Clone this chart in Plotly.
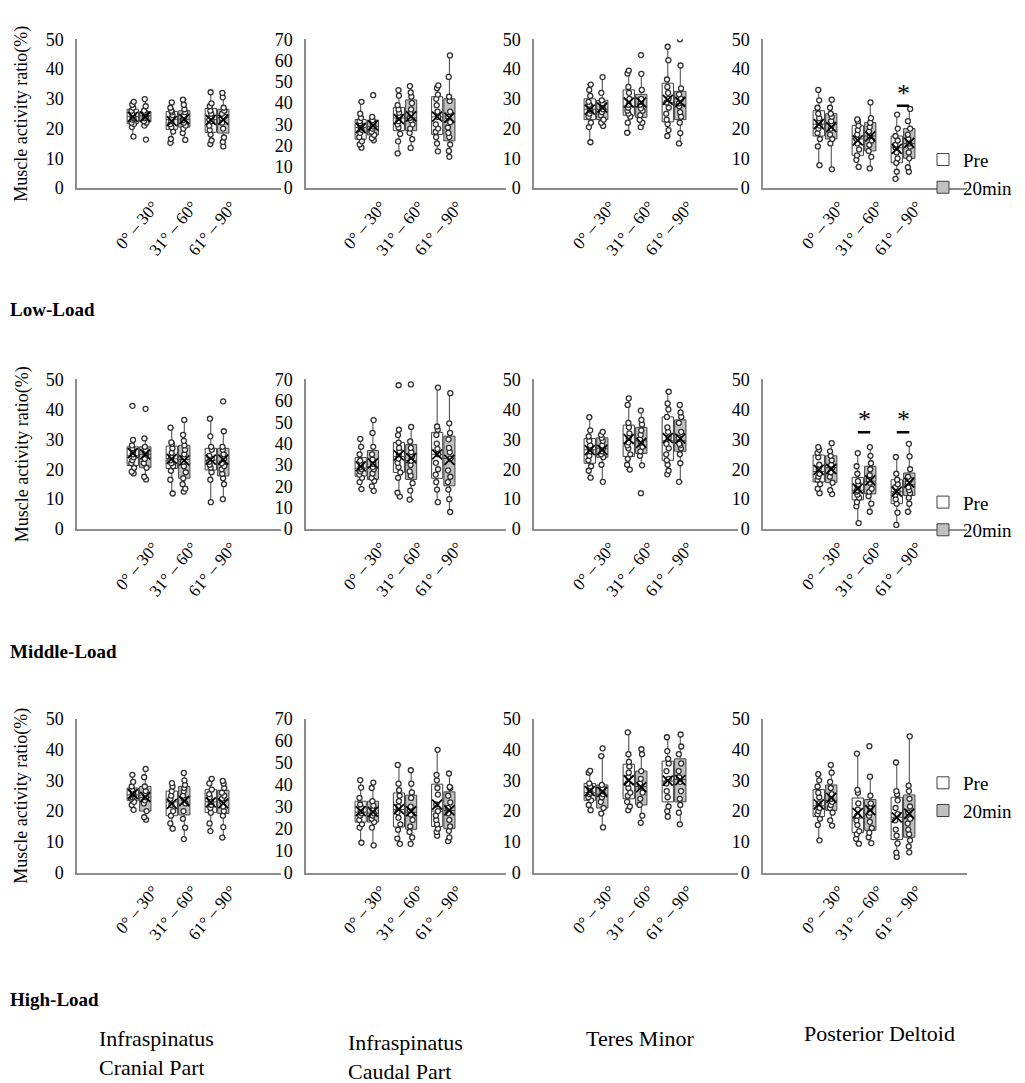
"""
Box plots of muscle activity ratio (Pre vs 20min) for four muscles
under three load levels, rebuilt with plotly.
"""

import numpy as np
import plotly.graph_objects as go

FONT = "Liberation Serif, Times New Roman, serif"

ANGLES = ["0° – 30°", "31° – 60°", "61° – 90°"]
MUSCLES = ["Infraspinatus<br>Cranial Part", "Infraspinatus<br>Caudal Part",
           "Teres Minor", "Posterior Deltoid"]
LOADS = ["Low-Load", "Middle-Load", "High-Load"]
GROUPS = ["Pre", "20min"]
Y_MAX = [50, 70, 50, 50]

# ---- Low-Load (one list per angle range) ----
LOW_CRAN_PRE = [[17.3, 20.5, 21.5, 22, 23, 23.5, 24, 24.5, 25, 26, 27, 28, 29],
                [15.2, 16.5, 19, 20.5, 21.5, 22.5, 23.5, 24.5, 25.5, 26, 27, 28.8],
                [14.8, 16, 18, 19.5, 21, 22.5, 23, 24, 25, 26, 27.5, 28.5, 32.2]]
LOW_CRAN_POST = [[16.3, 21, 22, 22.5, 23.5, 24, 24.5, 25, 25.5, 26, 27.5, 29.9],
                 [16.2, 18.5, 20, 21, 22, 22.8, 23.5, 24.5, 25.5, 26.5, 28, 29.7],
                 [14, 15.5, 17, 20, 22, 23.5, 24, 25, 26, 27, 30.5, 32]]
LOW_CAUD_PRE = [[19, 20.5, 22, 24, 26, 27.5, 28.5, 29.5, 30.5, 31.5, 33, 35, 40.6],
                [16.3, 22, 25.5, 28.5, 30, 31.5, 33, 34, 35.5, 37, 39, 43.5, 46.1],
                [17.3, 21, 24, 26.5, 28, 30, 33.5, 36, 39, 42, 44, 47, 48.3]]
LOW_CAUD_POST = [[22.5, 23.5, 25, 26.5, 28, 29, 30, 31, 32, 33.5, 43.7],
                 [18.9, 23, 26, 28, 30, 32, 33, 35, 37, 40, 43, 45, 48],
                 [14.7, 17.5, 20.5, 24, 26, 28.5, 31, 33.5, 36, 41, 43, 52.3, 62.4]]
LOW_TM_PRE = [[15.4, 20.5, 22, 24, 25, 26, 26.5, 27.5, 28, 29, 31, 33, 34.8],
              [18.6, 22, 24, 25, 26, 27, 28, 30, 32, 34, 38.5, 39.5],
              [17.5, 19.5, 21.5, 23, 25, 27, 28.8, 30, 32, 34, 36.5, 43, 47.5]]
LOW_TM_POST = [[20.9, 22, 23, 24.5, 25.5, 26.5, 27.5, 28.5, 29.5, 32, 37.3],
               [20.5, 22, 23, 24.5, 26, 26.8, 28, 29, 30, 33, 38.4, 44.7],
               [15, 18.5, 22, 24, 25.5, 27.5, 28.5, 30, 31.5, 33.5, 41.2, 50]]
LOW_PD_PRE = [[7.7, 14, 16.5, 18.5, 20, 21, 22, 23.5, 25, 27, 29.5, 33],
              [7.1, 9.5, 11, 13, 15, 16.5, 18, 19.5, 21, 22.5, 23.1],
              [3.1, 5.5, 8.5, 10, 12, 13.5, 14.5, 16, 17.5, 20, 24.7]]
LOW_PD_POST = [[6.3, 15, 16.5, 18, 20, 21.5, 22.5, 24, 25, 27, 29.7],
               [6.6, 10.5, 12.5, 14.5, 16, 17.5, 19, 20.5, 22, 23.5, 28.8],
               [5.5, 7, 10, 12, 14, 15, 16.5, 18, 20, 22.5, 26.6]]

# ---- Middle-Load ----
MID_CRAN_PRE = [[18.6, 19.2, 20.5, 22, 23, 24, 25, 26, 27, 28, 29.8, 41.2],
                [11.9, 16.5, 19.5, 21, 22, 23, 24, 25.5, 27, 28.5, 29, 33.9],
                [9, 16.5, 19, 20.5, 21.5, 22.5, 23.5, 24.5, 26.5, 27.5, 31, 36.9]]
MID_CRAN_POST = [[16.6, 17.5, 20.5, 22, 23.5, 25, 25.5, 26.5, 27.5, 30.3, 40.2],
                 [12.5, 13.5, 15, 17, 19, 21, 22.5, 24, 25, 26.5, 28, 29.5, 31.5, 36.5],
                 [10, 15, 17, 18.5, 20, 21, 22, 23.5, 25, 26.5, 27.5, 32.7, 42.7]]
MID_CAUD_PRE = [[18.7, 22, 24, 25.5, 27, 28, 29, 30.5, 32, 35, 38.5, 42.2],
                [15.2, 17, 24, 26.5, 29, 31, 33, 35, 36.5, 38, 40.5, 44, 46.5, 67.3],
                [12.6, 18.5, 22, 25.5, 28, 31, 35, 37.5, 40, 44, 46.5, 48, 66.2]]
MID_CAUD_POST = [[17.9, 20, 22.5, 24, 26, 28, 29, 30.5, 32.5, 35, 38.5, 45, 51],
                 [13.8, 18, 21.5, 25, 27, 30, 32, 34, 36, 38, 41, 47.8, 67.7],
                 [8, 14, 18.5, 22, 24.5, 27.5, 33, 36, 38, 42, 45, 49.5, 63.6]]
MID_TM_PRE = [[17.2, 19.5, 21, 23, 24.5, 26, 27, 28, 29.5, 31, 33, 37.4],
              [19.9, 21.5, 23.5, 25, 27, 28, 29, 30.5, 32, 34, 35.5, 41.5, 43.7],
              [18.3, 19.5, 21.5, 23, 25, 27, 28.5, 30.5, 32.5, 34, 37.5, 40, 42, 45.9]]
MID_TM_POST = [[15.8, 21.5, 24, 25, 26, 27, 28, 29.5, 30.5, 31.5, 32.5],
               [12, 21.3, 24.5, 26, 27.5, 29, 30, 31.5, 33, 35, 36.5, 39.6],
               [15.8, 22, 25, 27, 28, 28.5, 30.5, 32.5, 35.5, 37.5, 39, 41.5]]
MID_PD_PRE = [[12, 13.5, 15, 16.5, 17.5, 18.5, 20, 21.5, 24, 25.5, 26.5, 27.4],
              [2, 7.6, 9, 10.5, 11.5, 12.5, 13, 14, 15, 16, 18.5, 21, 25.4],
              [1.4, 5.5, 8.5, 10, 11.5, 12.5, 14, 15, 16.5, 18.5, 24.1]]
MID_PD_POST = [[11.7, 13, 15.5, 17.5, 19, 20.5, 21.5, 23, 24.5, 26, 28.7],
               [5.8, 8.5, 11, 12.5, 13.5, 15.5, 16.5, 18, 20, 22, 24.5, 27.4],
               [5.8, 8.5, 10.5, 12, 13, 14, 15.5, 16.5, 17.5, 20, 24.3, 28.5]]

# ---- High-Load ----
HIGH_CRAN_PRE = [[20.4, 22, 23, 24, 24.5, 25, 25.5, 26, 27, 28, 29.5, 31.8],
                 [14.3, 16, 18.5, 20, 22, 24, 25, 26.5, 28, 29.1],
                 [13.5, 16, 19.5, 21, 22, 23, 24.5, 25.5, 27, 29, 30.5]]
HIGH_CRAN_POST = [[17.2, 18, 20, 22.5, 23.5, 24.5, 25.5, 26.5, 28, 31, 33.7],
                  [10.9, 14.6, 17.5, 20, 22.5, 24, 25, 26.5, 27.5, 28.5, 30, 32.4],
                  [11.4, 14.8, 18.5, 20, 21.5, 23, 24, 25, 26, 27.5, 29, 29.8]]
HIGH_CAUD_PRE = [[13.6, 20.5, 22, 24, 26, 27, 28, 29.5, 31, 34, 38.7, 42.1],
                 [13.1, 15.5, 19.5, 22, 25, 27.5, 30, 32.5, 35, 37.5, 40.5, 49],
                 [16.8, 18.5, 20, 22, 24, 26, 28, 31, 35.5, 38.5, 42, 44.5, 55.9]]
HIGH_CAUD_POST = [[12.4, 20.5, 23, 24.5, 26, 27, 28.5, 30.5, 32.5, 38.5, 41],
                  [13.1, 16, 18.5, 21, 24, 26.5, 28.5, 30, 34, 36.5, 40.5, 46.6],
                  [14.3, 16, 19, 21, 24, 27, 29.5, 32, 35, 38.5, 39, 45.1]]
HIGH_TM_PRE = [[20.3, 22, 23.5, 24.5, 25.5, 26, 27, 28, 29, 32.5, 33.1],
               [20.3, 21.5, 23, 25, 26, 27.5, 29, 31, 32.5, 34.5, 36, 38.5, 45.6],
               [18.2, 20, 21.5, 24.5, 26.5, 29, 30.5, 33, 35.5, 37, 39.5, 44]]
HIGH_TM_POST = [[14.7, 19.2, 21, 23, 24.5, 25.5, 26.5, 27.5, 28.5, 37.9, 40.4],
                [16.2, 18.5, 22, 24, 26, 28, 29, 30.5, 33, 38.5, 40.1],
                [15.7, 19.5, 22, 24, 26.5, 29.5, 31, 33, 35.5, 38.5, 41, 44.9]]
HIGH_PD_PRE = [[10.5, 15.5, 17.5, 19, 20, 21, 22.5, 24.5, 26, 28, 30, 32],
               [9.4, 11, 12.5, 13.5, 15.5, 17, 18.5, 20.5, 22.5, 26, 26.9, 38.7],
               [5.1, 6.5, 9.5, 12, 14, 17, 19, 21, 23.5, 25.5, 26.5, 35.8]]
HIGH_PD_POST = [[15.3, 17, 19.5, 21, 22, 23, 24, 25.5, 27.5, 29.5, 32.5, 35],
                [9.6, 11.5, 13, 14.5, 16.5, 18.5, 19.5, 21, 22.5, 25, 31.2, 41.1],
                [6.6, 8.5, 10.5, 12.5, 14, 16, 17.5, 19.5, 21.5, 24, 26.5, 28.3, 44.3]]

# significant Pre vs 20min: (load row, muscle col, angle index, bar level)
SIG_MARKS = [(0, 3, 2, 27.7), (1, 3, 1, 32.4), (1, 3, 2, 32.4)]

PANELS = [
    [(LOW_CRAN_PRE, LOW_CRAN_POST), (LOW_CAUD_PRE, LOW_CAUD_POST),
     (LOW_TM_PRE, LOW_TM_POST), (LOW_PD_PRE, LOW_PD_POST)],
    [(MID_CRAN_PRE, MID_CRAN_POST), (MID_CAUD_PRE, MID_CAUD_POST),
     (MID_TM_PRE, MID_TM_POST), (MID_PD_PRE, MID_PD_POST)],
    [(HIGH_CRAN_PRE, HIGH_CRAN_POST), (HIGH_CAUD_PRE, HIGH_CAUD_POST),
     (HIGH_TM_PRE, HIGH_TM_POST), (HIGH_PD_PRE, HIGH_PD_POST)],
]

# layout in pixels
W, H = 1025, 1083
COL_PX = [(69, 273), (298, 498), (526, 730), (755, 959)]
ROW_PX = [(21.7, 173.3), (368.3, 520.7), (714, 870.7)]
FILLS = ["white", "#BFBFBF"]
OFFSETS = [-0.16, 0.16]
BOX_W = 0.29
LINE_GRAY = "#8C8C8C"
LEGEND_TOP = [125, 474, 760]
LOAD_Y = [297, 645, 1000]
MUSCLE_POS = [(89, 1054), (338, 1059), (576, 1040), (794, 1035)]


def px_x(x):
    return x / W


def px_y(y):
    return 1 - y / H


fig = go.Figure()
layout = dict()
annotations = []
shapes = []

for r in range(3):
    for c in range(4):
        k = r * 4 + c + 1
        sfx = "" if k == 1 else str(k)
        xa, ya = "x" + sfx, "y" + sfx
        legend_name = "legend" if r == 0 else f"legend{r + 1}"

        for g, samples in enumerate(PANELS[r][c]):
            xs, ys = [], []
            for i, vals in enumerate(samples):
                xs += [i + OFFSETS[g]] * len(vals)
                ys += vals
            fig.add_trace(go.Box(
                x=xs, y=ys, xaxis=xa, yaxis=ya,
                name=GROUPS[g], legend=legend_name, showlegend=(c == 3),
                width=BOX_W, boxpoints="all", jitter=0.3, pointpos=0,
                quartilemethod="exclusive", whiskerwidth=0.45,
                fillcolor=FILLS[g], line=dict(color="#404040", width=1),
                marker=dict(symbol="circle", size=5, color="white",
                            line=dict(color="#303030", width=1.3)),
            ))
            means = [np.mean(v) for v in samples]
            fig.add_trace(go.Scatter(
                x=[i + OFFSETS[g] for i in range(3)], y=means,
                xaxis=xa, yaxis=ya, mode="markers", showlegend=False,
                marker=dict(symbol="x-thin", size=10,
                            line=dict(color="black", width=1.8)),
            ))

        x0, x1 = COL_PX[c]
        y0, y1 = ROW_PX[r]
        layout["xaxis" + sfx] = dict(
            domain=[px_x(x0), px_x(x1)], anchor=ya, range=[-1.59, 3.64],
            tickvals=[0, 1, 2], ticktext=ANGLES, tickangle=-50,
            ticklabelshift=14, ticks="", showgrid=False, zeroline=False,
            showline=True, linecolor=LINE_GRAY, linewidth=1.5,
            tickfont=dict(family=FONT, size=17, color="black"),
        )
        layout["yaxis" + sfx] = dict(
            domain=[px_y(y1), px_y(y0)], anchor=xa, range=[0, Y_MAX[c]],
            dtick=10, ticks="", showgrid=False, zeroline=False,
            showline=True, linecolor=LINE_GRAY, linewidth=1.5,
            ticklabelstandoff=8,
            tickfont=dict(family=FONT, size=18, color="black"),
        )

    # y axis title on the first panel of each row
    annotations.append(dict(
        text="Muscle activity ratio(%)", xref="paper", yref="paper",
        x=px_x(14), y=px_y(sum(ROW_PX[r]) / 2), textangle=-90,
        xanchor="center", yanchor="middle",
        showarrow=False, font=dict(family=FONT, size=18, color="black"),
    ))
    # load label under the row
    annotations.append(dict(
        text=f"<b>{LOADS[r]}</b>", xref="paper", yref="paper",
        x=px_x(0), y=px_y(LOAD_Y[r]), xanchor="left", yanchor="middle",
        showarrow=False, font=dict(family=FONT, size=19, color="black"),
    ))
    layout["legend" if r == 0 else f"legend{r + 1}"] = dict(
        x=px_x(915), y=px_y(LEGEND_TOP[r]), xanchor="left", yanchor="top",
        font=dict(family=FONT, size=19, color="black"),
        bgcolor="rgba(0,0,0,0)", itemwidth=30, traceorder="normal",
    )

# significance bars and stars
for r, c, i, level in SIG_MARKS:
    k = r * 4 + c + 1
    sfx = "" if k == 1 else str(k)
    shapes.append(dict(
        type="line", xref="x" + sfx, yref="y" + sfx,
        x0=i + OFFSETS[0], x1=i + OFFSETS[1], y0=level, y1=level,
        line=dict(color="black", width=2.5),
    ))
    annotations.append(dict(
        text="*", xref="x" + sfx, yref="y" + sfx, x=i, y=level,
        yanchor="bottom", yshift=-4, showarrow=False,
        font=dict(family=FONT, size=26, color="black"),
    ))

# muscle names at the bottom
for name, (mx, my) in zip(MUSCLES, MUSCLE_POS):
    annotations.append(dict(
        text=name, xref="paper", yref="paper", x=px_x(mx), y=px_y(my),
        xanchor="left", yanchor="middle", align="left", showarrow=False,
        font=dict(family=FONT, size=22, color="black"),
    ))

fig.update_layout(
    width=W, height=H, autosize=False,
    margin=dict(l=0, r=0, t=0, b=0),
    paper_bgcolor="white", plot_bgcolor="white",
    boxmode="overlay",
    annotations=annotations, shapes=shapes,
    **layout,
)

fig.write_html("out.html")
